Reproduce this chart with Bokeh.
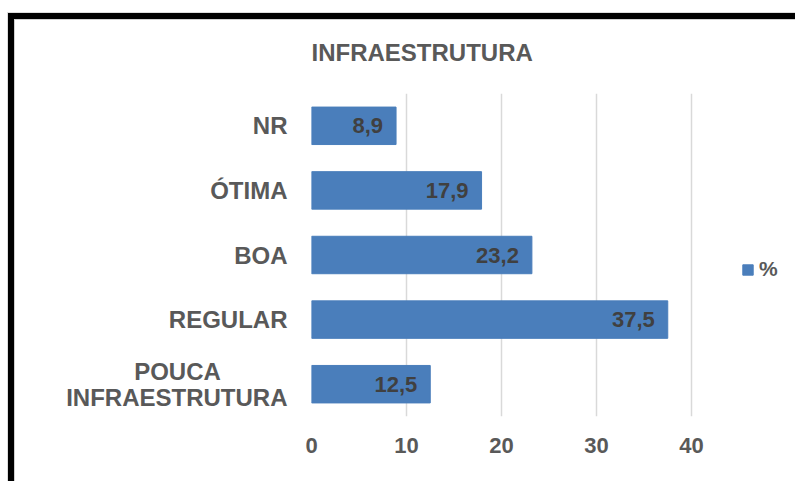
from bokeh.plotting import figure
from bokeh.models import (ColumnDataSource, FactorRange, Range1d, Legend,
                          LegendItem, FixedTicker, Title)
from bokeh.embed import file_html
from bokeh.resources import INLINE
from bokeh.core.properties import value

# ---- data ----
NBSP = "\u00a0"
categories = ["NR", "ÓTIMA", "BOA", "REGULAR",
              "POUCA" + NBSP * 10 + "\nINFRAESTRUTURA"]
percent = [8.9, 17.9, 23.2, 37.5, 12.5]
x_ticks = [0, 10, 20, 30, 40]
title_text = "INFRAESTRUTURA"
series_name = "%"

FONT_NAME = "Liberation Sans"
GRAY = "#595959"
BAR = "#4A7EBB"

labels = [f"{v:.1f}".replace(".", ",") for v in percent]
src = ColumnDataSource(dict(cat=categories, val=percent, lab=labels))

# black picture frame (top and left edges) painted behind a transparent canvas
frame_css = ", ".join([
    "linear-gradient(#000,#000) 8px 13px / 787px 6px no-repeat",
    "linear-gradient(#000,#000) 8px 13px / 6px 468px no-repeat",
    "linear-gradient(#d0d0d0,#d0d0d0) 14px 19px / 781px 1px no-repeat",
    "linear-gradient(#d0d0d0,#d0d0d0) 14px 19px / 1px 462px no-repeat",
    "linear-gradient(#dddddd,#dddddd) 7px 12px / 788px 1px no-repeat",
    "linear-gradient(#dddddd,#dddddd) 7px 12px / 1px 469px no-repeat",
])

p = figure(width=795, height=481,
           y_range=FactorRange(*reversed(categories)),
           x_range=Range1d(0, 50),
           output_backend="svg", toolbar_location=None,
           styles={"background": frame_css})
p.min_border_left = 311
p.min_border_right = 9
p.min_border_top = 93
p.min_border_bottom = 65
p.outline_line_color = None
p.background_fill_color = "white"
p.border_fill_color = None

bars = p.hbar(y="cat", left=0, right="val", height=0.58, source=src,
              fill_color=BAR, line_color=BAR)

p.text(x="val", y="cat", text="lab", source=src, text_align="right",
       text_baseline="middle", x_offset=-13, text_font=value(FONT_NAME),
       text_font_style="bold", text_font_size="22px", text_color="#404040")

# axes
p.xaxis.ticker = FixedTicker(ticks=x_ticks)
p.xgrid.ticker = FixedTicker(ticks=x_ticks)
p.xgrid.grid_line_color = "#d9d9d9"
p.xgrid.grid_line_width = 1.5
p.ygrid.visible = False
for ax in (p.xaxis, p.yaxis):
    ax.axis_line_color = None
    ax.major_tick_line_color = None
    ax.minor_tick_line_color = None
    ax.major_label_text_font = FONT_NAME
    ax.major_label_text_font_style = "bold"
    ax.major_label_text_color = GRAY
p.xaxis.major_label_text_font_size = "22px"
p.xaxis.major_label_standoff = 15
p.yaxis.major_label_text_font_size = "24px"
p.yaxis.major_label_standoff = 18
p.yaxis.major_label_text_line_height = 0.95

# title
p.add_layout(Title(text=title_text, align="left", offset=0,
                   vertical_align="bottom", standoff=56,
                   text_font=FONT_NAME, text_font_style="bold",
                   text_font_size="24px", text_color=GRAY), "above")

# legend
legend = Legend(items=[LegendItem(label=series_name, renderers=[bars])],
                location=(430, 135), glyph_width=13, glyph_height=13,
                label_height=13, label_text_font=FONT_NAME,
                label_text_font_style="bold", label_text_font_size="21px",
                label_text_color=GRAY, label_standoff=5, padding=0, margin=0,
                spacing=0, border_line_color=None, background_fill_alpha=0)
p.add_layout(legend)

open("out.html", "w").write(file_html(p, INLINE))
